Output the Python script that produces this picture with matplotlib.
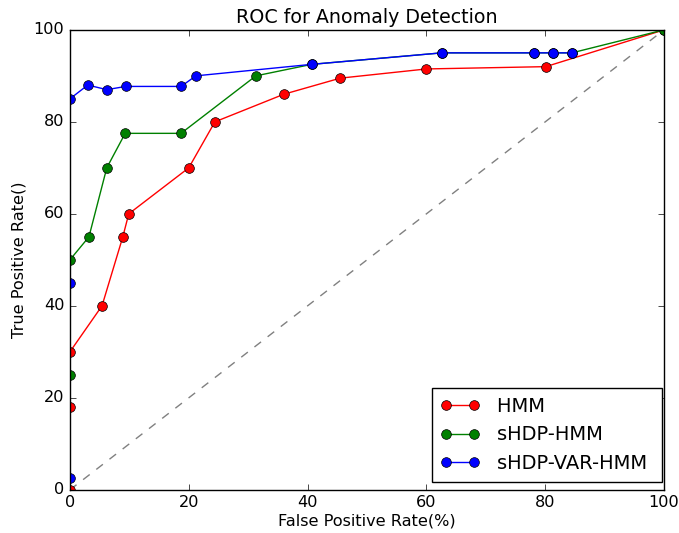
import numpy as np
import matplotlib
matplotlib.use('Agg')
import matplotlib.pyplot as plt

# HMM
hmm_fpr = [0, 0, 0, 5.4, 8.9, 9.9, 20, 24.4, 36, 45.5, 60, 80.1, 100]
hmm_tpr = [0, 18, 30, 40, 55, 60, 70, 80, 86, 89.5, 91.5, 92, 100]

# sHDP-HMM
shdp_fpr = [0, 0, 3.2, 6.2, 9.3, 18.7, 31.3, 40.7, 62.6, 78.1, 81.3, 84.5, 100]
shdp_tpr = [25, 50, 55, 70, 77.5, 77.5, 90, 92.5, 95, 95, 95, 95, 100]

# sHDP-VAR-HMM
var_fpr = [0, 0, 0, 3.0, 6.2, 9.4, 18.7, 21.2, 40.7, 62.6, 78.1, 81.3, 84.5]
var_tpr = [2.5, 45, 85, 88, 87, 87.7, 87.7, 90, 92.5, 95, 95, 95, 95]

plt.style.use('classic')
plt.rc('font', size=11.6)
plt.rc('axes', titlesize=13.7, labelsize=11.6)
plt.rc('xtick', labelsize=11.6)
plt.rc('ytick', labelsize=11.6)

fig = plt.figure(figsize=(6.79, 5.33), dpi=100)
fig.patch.set_facecolor('white')
ax = fig.add_axes([0.103, 0.081, 0.875, 0.863])

ax.plot([0, 100], [0, 100], '--', color='gray', dashes=(6, 6))
ax.plot(hmm_fpr, hmm_tpr, 'r-o', markersize=7, label='HMM')
ax.plot(shdp_fpr, shdp_tpr, 'g-o', markersize=7, label='sHDP-HMM')
ax.plot(var_fpr, var_tpr, 'b-o', markersize=7, label='sHDP-VAR-HMM')

ax.set_xlim(0, 100)
ax.set_ylim(0, 100)
ax.set_xticks([0, 20, 40, 60, 80, 100])
ax.set_yticks([0, 20, 40, 60, 80, 100])
ax.set_xlabel('False Positive Rate(%)', labelpad=2)
ax.set_ylabel('True Positive Rate()')
ax.set_title('ROC for Anomaly Detection')
leg = ax.legend(loc='lower right', bbox_to_anchor=(0.9966, 0.0174),
                borderaxespad=0, fontsize=14, handletextpad=0.9,
                borderpad=0.45)
# a little extra room on the right side of the legend text
for t in leg.get_texts():
    t.set_text(t.get_text() + ' ')

fig.savefig('out.png', dpi=100, facecolor='white')
